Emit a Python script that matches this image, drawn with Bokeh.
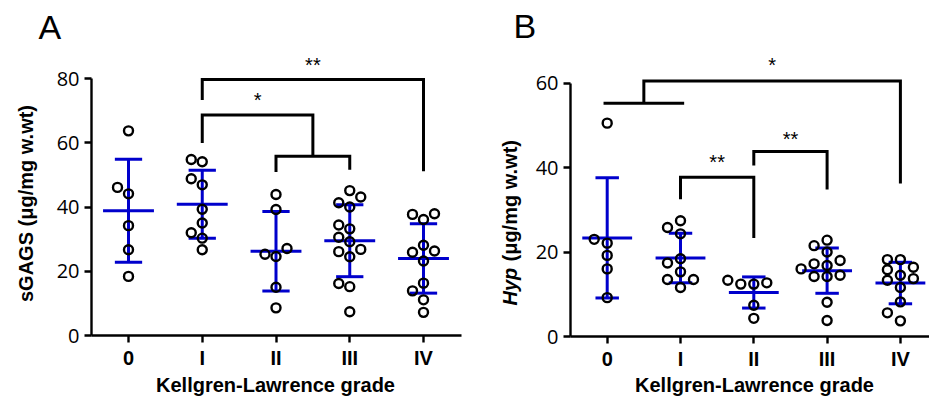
import numpy as np
from bokeh.plotting import figure
from bokeh.models import ColumnDataSource, FixedTicker, Label, Range1d
from bokeh.layouts import row
from bokeh.embed import file_html
from bokeh.resources import INLINE

# ---------------- data ----------------
grades = ["0", "I", "II", "III", "IV"]

sgags_0 = [63.7, 46.1, 44.1, 34.2, 26.7, 18.4]
sgags_I = [54.8, 54.1, 48.8, 46.9, 39.3, 35.0, 32.0, 30.3, 26.7]
sgags_II = [43.9, 39.2, 27.1, 25.3, 24.6, 15.0, 8.6]
sgags_III = [45.1, 43.1, 41.3, 40.0, 34.4, 33.2, 30.6, 29.2, 26.8, 26.1, 24.5, 16.2, 15.2, 7.4]
sgags_IV = [37.9, 37.7, 36.1, 28.1, 26.3, 25.9, 23.2, 16.3, 13.9, 11.1, 7.2]

hyp_0 = [50.5, 23.0, 22.1, 19.2, 16.0, 9.2]
hyp_I = [27.4, 25.8, 24.3, 18.4, 17.4, 15.3, 13.5, 13.5, 11.6]
hyp_II = [13.3, 12.7, 12.4, 12.4, 7.4, 4.3]
hyp_III = [22.8, 21.5, 20.0, 18.0, 17.2, 16.8, 16.0, 14.5, 14.2, 14.2, 8.1, 3.8]
hyp_IV = [18.2, 18.2, 16.4, 15.8, 14.5, 13.7, 13.3, 11.6, 8.2, 5.6, 3.7]

sgags_ticks = [0, 20, 40, 60, 80]
hyp_ticks = [0, 20, 40, 60]

# significance brackets (grade index positions and heights in data units)
sgags_br_left = [1, 1, 2]
sgags_br_right = [4, 2.5, 3]
sgags_br_top = [79.7, 68.6, 55.8]
sgags_br_left_end = [73.3, 59.9, 50.9]
sgags_br_right_end = [51.1, 56.1, 51.6]
sgags_br_label = ["**", "*", ""]
sgags_br_label_y = [84.1, 73.3, 0]

hyp_br_left = [0.5, 1, 2]
hyp_br_right = [4, 2, 3]
hyp_br_top = [60.5, 37.7, 43.8]
hyp_br_left_end = [55.2, 32.5, 40.5]
hyp_br_right_end = [36.2, 23.3, 34.8]
hyp_br_label = ["*", "**", "**"]
hyp_br_label_y = [64.2, 41.2, 46.8]
hyp_group_bar = [-0.05, 1.05, 55.2]   # x from, x to, height

# ---------------- style ----------------
HEIGHT = 396
BLUE = "#0000CC"
F_LAB = "Liberation Sans"
F_TICK = "Open Sans"


def swarm_offsets(vals, ypx, xpx, step, dmin):
    vals = np.asarray(vals, float)
    order = np.argsort(vals, kind="stable")
    placed = []
    off = np.zeros(len(vals))
    for i in order:
        y = vals[i] * ypx
        dx = 0.0
        for k in [0, -1, 1, -2, 2, -3, 3, -4, 4]:
            dx = k * step
            if all((dx - px) ** 2 + (y - py) ** 2 >= dmin ** 2 for px, py in placed):
                break
        placed.append((dx, y))
        off[i] = dx / xpx
    return off


def build_panel(groups, ticks, width, frame_left, frame_right, cat0, spacing,
                axis_y, ypx, br_l, br_r, br_top, br_le, br_re, br_lab, br_lab_y,
                mean_half, cap_half, step):
    # the frame covers the whole canvas; axes are drawn at fixed locations
    x_lo = (0 - cat0) / spacing
    x_hi = (width - cat0) / spacing
    y_hi = axis_y / ypx
    y_lo = (axis_y - HEIGHT) / ypx
    p = figure(width=width, height=HEIGHT, x_range=Range1d(x_lo, x_hi),
               y_range=Range1d(y_lo, y_hi), output_backend="svg",
               toolbar_location=None, min_border=0, min_border_left=0,
               min_border_right=0, min_border_top=0, min_border_bottom=0)
    p.outline_line_color = None
    p.grid.visible = False
    p.background_fill_color = "white"
    p.border_fill_color = "white"

    px_, py_ = [], []
    cx, mean, lo, hi = [], [], [], []
    for i, vals in enumerate(groups):
        off = swarm_offsets(vals, ypx, spacing, step, 10.0)
        px_ += list(i + off)
        py_ += list(vals)
        m = float(np.mean(vals))
        s = float(np.std(vals, ddof=1))
        cx.append(i); mean.append(m); lo.append(m - s); hi.append(m + s)
    cx = np.array(cx, float)
    stats = ColumnDataSource(dict(x=cx, m=mean, lo=lo, hi=hi,
                                  ml=cx - mean_half, mr=cx + mean_half,
                                  cl=cx - cap_half, cr=cx + cap_half))
    # error bars (mean +/- SD)
    for x0, y0, x1, y1 in [("x", "lo", "x", "hi"), ("cl", "hi", "cr", "hi"),
                           ("cl", "lo", "cr", "lo"), ("ml", "m", "mr", "m")]:
        p.segment(x0=x0, y0=y0, x1=x1, y1=y1, source=stats, line_color=BLUE,
                  line_width=3)
    # points
    p.scatter(x=px_, y=py_, marker="circle", size=9, fill_color=None,
              line_color="black", line_width=2.4)

    # brackets
    bxs = [[l, l, r, r] for l, r in zip(br_l, br_r)]
    bys = [[le, t, t, re] for le, t, re in zip(br_le, br_top, br_re)]
    p.multi_line(xs=bxs, ys=bys, line_color="black", line_width=3,
                 line_join="miter", line_cap="butt")
    lx = [(l + r) / 2 for l, r, t in zip(br_l, br_r, br_lab) if t]
    ly = [y for y, t in zip(br_lab_y, br_lab) if t]
    lt = [t for t in br_lab if t]
    p.text(x=lx, y=ly, text=lt, text_align="center", text_baseline="middle",
           y_offset=0, text_font_size="20px", text_color="black")

    for ax in p.axis:
        ax.axis_line_width = 2.4
        ax.axis_line_color = "black"
        ax.major_tick_line_width = 2.4
        ax.major_tick_line_color = "black"
        ax.major_tick_out = 7
        ax.major_tick_in = 0
        ax.minor_tick_line_color = None
        ax.major_label_text_color = "black"
    p.xaxis.fixed_location = 0
    p.xaxis.bounds = ((frame_left - cat0) / spacing, (frame_right - cat0) / spacing)
    p.xaxis.ticker = FixedTicker(ticks=list(range(len(grades))))
    p.xaxis.major_label_overrides = {i: g for i, g in enumerate(grades)}
    p.xaxis.major_label_text_font = F_LAB
    p.xaxis.major_label_text_font_style = "bold"
    p.xaxis.major_label_text_font_size = "20px"
    p.xaxis.major_label_standoff = 4
    p.yaxis.fixed_location = (frame_left - cat0) / spacing
    p.yaxis.ticker = FixedTicker(ticks=ticks)
    p.yaxis.bounds = (0, ticks[-1])
    p.yaxis.major_label_text_font = F_TICK
    p.yaxis.major_label_text_font_size = "20px"
    p.yaxis.major_label_standoff = 5
    return p


def screen_label(p, text, x, y, **kw):
    args = dict(x=x, y=y, x_units="screen", y_units="screen", text=text,
                text_font=F_LAB, text_color="black", text_baseline="middle")
    args.update(kw)
    p.add_layout(Label(**args))


# ---- panel A ----
pA = build_panel([sgags_0, sgags_I, sgags_II, sgags_III, sgags_IV], sgags_ticks,
                 470, 91, 461, 128, 73.75, 335, 3.2125,
                 sgags_br_left, sgags_br_right, sgags_br_top, sgags_br_left_end,
                 sgags_br_right_end, sgags_br_label, sgags_br_label_y,
                 0.345, 0.185, 11.0)
screen_label(pA, "A", 38, 370, text_font_size="34px")
screen_label(pA, "sGAGS (\u03bcg/mg w.wt)", 25, 193, angle=np.pi / 2,
             text_align="center", text_font_style="bold", text_font_size="20px")
screen_label(pA, "Kellgren-Lawrence grade", 275, 12, text_align="center",
             text_font_style="bold", text_font_size="20px")

# ---- panel B ----
pB = build_panel([hyp_0, hyp_I, hyp_II, hyp_III, hyp_IV], hyp_ticks,
                 459, 100, 459, 136.7, 73.3, 336, 4.225,
                 hyp_br_left, hyp_br_right, hyp_br_top, hyp_br_left_end,
                 hyp_br_right_end, hyp_br_label, hyp_br_label_y,
                 0.34, 0.16, 13.0)
pB.multi_line(xs=[[hyp_group_bar[0], hyp_group_bar[1]]],
              ys=[[hyp_group_bar[2], hyp_group_bar[2]]],
              line_color="black", line_width=3, line_cap="butt")
screen_label(pB, "B", 43, 371, text_font_size="34px")
screen_label(pB, "Hyp", 39, 91, angle=np.pi / 2, text_align="left",
             text_font_style="bold italic", text_font_size="20px")
screen_label(pB, "(\u03bcg/mg w.wt)", 39, 135, angle=np.pi / 2, text_align="left",
             text_font_style="bold", text_font_size="20px")
screen_label(pB, "Kellgren-Lawrence grade", 284, 12, text_align="center",
             text_font_style="bold", text_font_size="20px")

layout = row(pA, pB)
open("out.html", "w").write(file_html(layout, INLINE))
